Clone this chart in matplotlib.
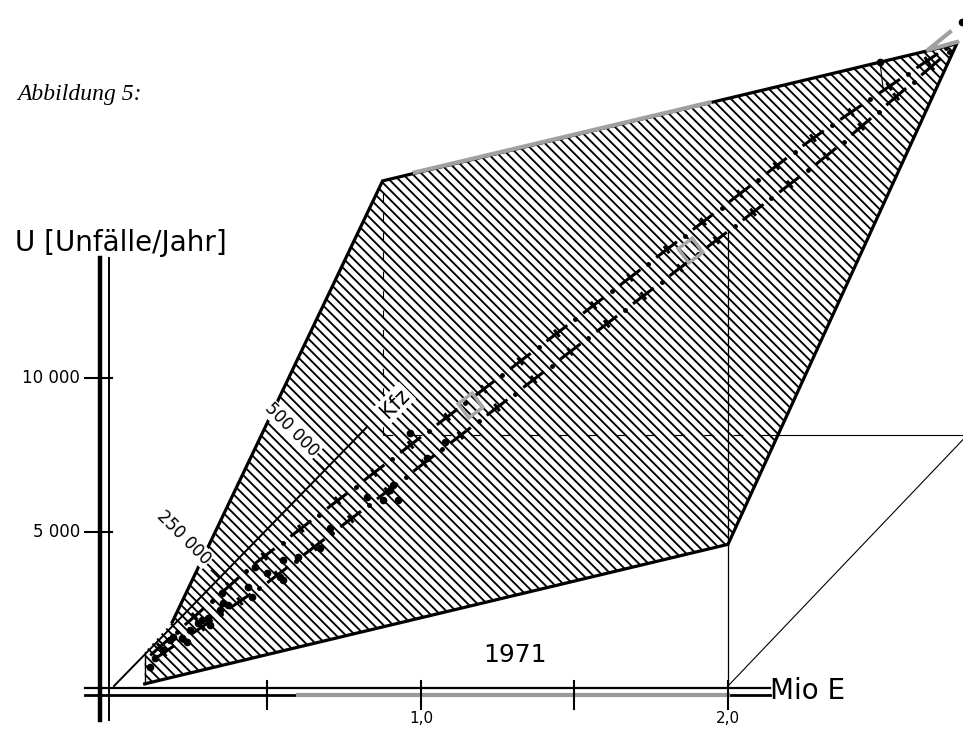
import numpy as np
import matplotlib
matplotlib.use("Agg")
import matplotlib.pyplot as plt
from matplotlib.patches import Polygon
from matplotlib.collections import LineCollection

plt.rcParams['lines.scale_dashes'] = False
plt.rcParams['font.family'] = ['DejaVu Sans']

# x: Mio E (Einwohner), y: U (Unfaelle/Jahr)
# schraffierte Flaeche 1971
zone_x = [0.10, 0.10, 0.19, 0.875, 2.745, 2.0]
zone_y = [70, 1100, 2080, 16400, 20850, 4600]

# Kfz-Achse (Strahl vom Ursprung)
kfz_end = [0.824, 8410]
kfz_end_val = 600000
kfz_ticks = [250000, 500000]
kfz_labels = ["250 000", "500 000"]

# Doppel-Strich-Punkt-Linie
band_up_x = [0.101, 0.453, 2.277, 2.749]
band_up_y = [844, 3929, 17793, 20975]
band_lo_x = [0.108, 0.498, 2.322, 2.756]
band_lo_y = [714, 3344, 17209, 20910]

# Messpunkte
pts_x = [0.117, 0.134, 0.160, 0.182, 0.192, 0.221, 0.238, 0.248, 0.274, 0.287,
         0.306, 0.313, 0.345, 0.355, 0.371, 0.352, 0.450, 0.436, 0.459, 0.498,
         0.541, 0.550, 0.599, 0.671, 0.704, 0.824, 0.876, 0.899, 0.909, 0.925,
         0.964, 1.020, 1.078, 0.550, 2.495, 2.762]
pts_y = [617, 909, 1169, 1494, 1591, 1559, 1429, 1818, 2046, 2143,
         2208, 1981, 2468, 2695, 2630, 3020, 2890, 3215, 3864, 3669,
         3539, 4091, 4189, 4481, 5130, 6137, 6039, 6364, 6526, 6039,
         8215, 7403, 7923, 3442, 20261, 21560]

# Hilfslinien
box_x = 0.875
box_y = 8150
year_x = 2.0
year_top = 14800

# Achsen
y_ticks = [10000, 5000]
y_ticklabels = ["10 000", "5 000"]
x_ticks = [0.5, 1.0, 1.5, 2.0]
x_labels = {1.0: "1,0", 2.0: "2,0"}

fig = plt.figure(figsize=(9.63, 7.34), dpi=100)
ax = fig.add_axes([0, 0, 1, 1])
ax.set_xlim(-0.3713, 2.7655)
ax.set_ylim(-1558, 22273)
ax.axis('off')
to_px = ax.transData.transform
to_data = ax.transData.inverted().transform

# Flaeche mit Schraffur (Abstand in Pixeln)
poly = Polygon(np.column_stack([zone_x, zone_y]), closed=True, facecolor='white',
               edgecolor='none', zorder=1)
ax.add_patch(poly)
corners = to_px(np.column_stack([zone_x, zone_y]))
csum = corners[:, 0] + corners[:, 1]
ylo, yhi = corners[:, 1].min() - 5, corners[:, 1].max() + 5
hatch = []
for c in np.arange(csum.min(), csum.max(), 9.6):
    hatch.append(to_data(np.array([[c - yhi, yhi], [c - ylo, ylo]])))
hl = LineCollection(hatch, colors='black', linewidths=1.35, zorder=1.5)
ax.add_collection(hl)
hl.set_clip_path(poly)

ox = [zone_x[0], zone_x[5], zone_x[4], zone_x[3], zone_x[2]]
oy = [zone_y[0], zone_y[5], zone_y[4], zone_y[3], zone_y[2]]
ax.plot(ox, oy, color='black', lw=2.3, solid_joinstyle='miter', zorder=3)
ax.plot(zone_x[:2], zone_y[:2], color='black', lw=1.0, zorder=3)
# grauer Abschnitt der Oberkante
ax.plot([0.98, 1.94], [16676, 18947], color='#a0a0a0', lw=3, zorder=4)

# Hilfslinien
ax.plot([box_x, box_x], [box_y, zone_y[3]], color='black', lw=0.8, ls=(0, (6, 8)), zorder=2)
ax.plot([box_x, 2.10], [box_y, box_y], color='black', lw=0.8, ls=(0, (7, 14)), zorder=2)
ax.plot([2.10, 2.7655], [box_y, box_y], color='black', lw=0.8, zorder=2)
ax.plot([2.7655, year_x], [8000, 0], color='black', lw=0.8, zorder=2)
ax.plot([year_x, year_x], [0, year_top], color='black', lw=0.9, zorder=2)
ax.plot([2.495, 2.505], [20261, 19417], color='black', lw=0.8, zorder=2)

# Kfz-Achse
ax.plot([0, kfz_end[0]], [0, kfz_end[1]], color='black', lw=1.4, zorder=3)
for k, lab in zip(kfz_ticks, kfz_labels):
    t = k / kfz_end_val
    px, py = kfz_end[0] * t, kfz_end[1] * t
    ax.plot([px, px - 0.025], [py, py + 250], color='black', lw=1.4, zorder=3)
ax.text(0.228, 4806, kfz_labels[0], rotation=-45, ha='center', va='center', fontsize=12,
        zorder=5, bbox=dict(facecolor='white', edgecolor='none', pad=0.5))
ax.text(0.580, 8312, kfz_labels[1], rotation=-45, ha='center', va='center', fontsize=12,
        zorder=5, bbox=dict(facecolor='white', edgecolor='none', pad=0.5))
ax.text(0.915, 9189, "Kfz", rotation=45, ha='center', va='center', fontsize=15,
        zorder=5, bbox=dict(facecolor='white', edgecolor='none', pad=1.5))


# Band: Strich mit Querstrich, dann Punkt (in Pixeln entlang der Linie)
def band_marks(xs, ys, period=46, dash=26, tick=9, start=20):
    p = to_px(np.column_stack([xs, ys]))
    seg = np.diff(p, axis=0)
    ln = np.hypot(seg[:, 0], seg[:, 1])
    cum = np.concatenate([[0], np.cumsum(ln)])

    def at(s):
        i = min(max(np.searchsorted(cum, s, side='right') - 1, 0), len(ln) - 1)
        d = seg[i] / ln[i]
        return p[i] + (s - cum[i]) * d, d

    lines, dots = [], []
    s = start
    while s < cum[-1] - 12:
        a, d = at(s - dash / 2)
        b, _ = at(s + dash / 2)
        c, _ = at(s)
        n = np.array([-d[1], d[0]])
        lines.append([a, b])
        lines.append([c - n * tick / 2, c + n * tick / 2])
        if s + period / 2 < cum[-1] - 5:
            dots.append(at(s + period / 2)[0])
        s += period
    lines = [to_data(np.array(l)) for l in lines]
    dots = to_data(np.array(dots))
    return lines, dots


for bx, by in [(band_up_x, band_up_y), (band_lo_x, band_lo_y)]:
    segs, dts = band_marks(bx, by)
    ax.add_collection(LineCollection(segs, colors='black', linewidths=2.2,
                                     capstyle='butt', zorder=4))
    ax.plot(dts[:, 0], dts[:, 1], ls='none', marker='o', ms=2.5, color='black', zorder=4)

ax.plot([1.160, 1.876], [9124, 14157], ls='none', marker=(4, 0, 82), ms=18,
        mfc='none', mec='#a8a8a8', mew=2.5, zorder=4)
ax.plot([2.723, 2.651, 2.746], [21235, 20651, 20910], color='#a0a0a0', lw=3, zorder=4)

ax.plot(pts_x, pts_y, ls='none', marker='o', ms=4.5, color='black', zorder=4)

# y-Achse
ax.plot([-0.0456, -0.0456], [-1100, 13900], color='black', lw=3.2, zorder=3)
ax.plot([-0.0163, -0.0163], [-1100, 13900], color='black', lw=1.4, zorder=3)
for v, lab in zip(y_ticks, y_ticklabels):
    ax.plot([-0.094, -0.0065], [v, v], color='black', lw=1.5, zorder=3)
    ax.text(-0.11, v, lab, ha='right', va='center', fontsize=12)

# x-Achse
ax.plot([-0.094, 2.137], [-60, -60], color='black', lw=1.6, zorder=3)
ax.plot([-0.094, 2.137], [-290, -290], color='black', lw=2.0, zorder=3)
ax.plot([0.6, 2.0], [-290, -290], color='#9a9a9a', lw=3.0, zorder=3)
for v in x_ticks:
    ax.plot([v, v], [150, -750], color='black', lw=1.5, zorder=3)
    if v in x_labels:
        ax.text(v, -1040, x_labels[v], ha='center', va='center', fontsize=11)

ax.text(2.137, -150, "Mio E", ha='left', va='center', fontsize=20)
ax.text(1.306, 1007, "1971", ha='center', va='center', fontsize=18)
ax.text(-0.3225, 14384, "U [Unfälle/Jahr]", ha='left', va='center', fontsize=20)
ax.text(-0.316, 19190, "Abbildung 5:", ha='left', va='center', fontsize=17,
        family=['Liberation Serif'], style='italic')

fig.savefig("out.png", dpi=100, facecolor='white')
